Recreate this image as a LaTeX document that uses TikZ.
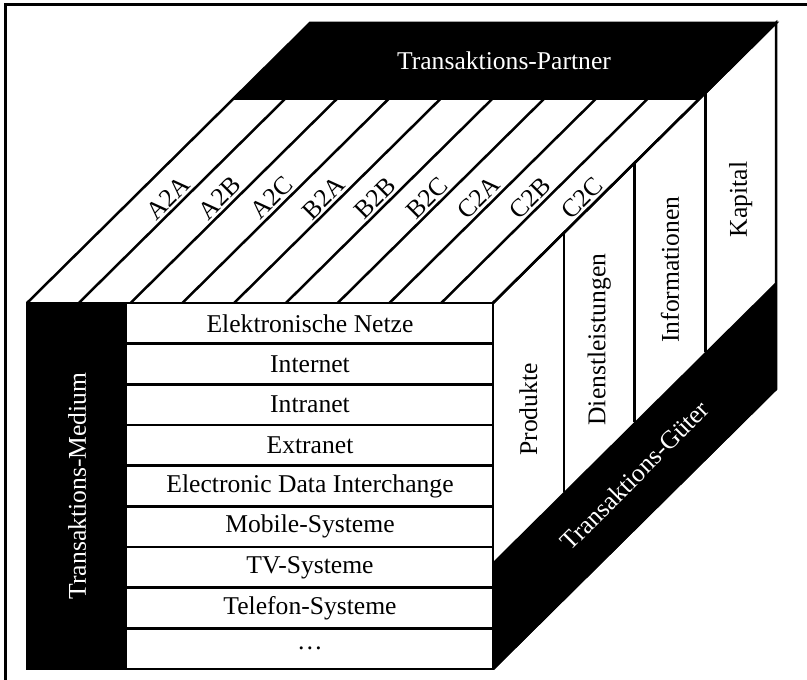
\documentclass[tikz,border=0pt]{standalone}
\usepackage{fontspec}
\setmainfont{Liberation Serif}

\tikzset{
  txt/.style={font=\fontsize{25.6}{30}\selectfont, inner sep=0pt},
  wtxt/.style={txt, text=white},
  edge/.style={line width=2.5pt, line join=miter},
}

\begin{document}
\begin{tikzpicture}[x=1pt,y=1pt]
  \useasboundingbox (0,0) rectangle (807,680);
  % frame
  \draw[line width=3pt] (5,0) -- (5,675) -- (807,675);

  % cube corners
  \coordinate (FBL) at (27,11);
  \coordinate (FTL) at (27,377);
  \coordinate (FTR) at (493,377);
  \coordinate (FBR) at (493,11);
  \coordinate (BTL) at (310,657);
  \coordinate (BTR) at (776,657);
  \coordinate (BBR) at (776,291);

  % black bands
  \fill (FBL) rectangle (127,377);
  \fill (233.3,581.1) -- (BTL) -- (BTR) -- (699.3,581.1) -- cycle;
  \fill (FBR) -- (493,118) -- (776,398) -- (BBR) -- cycle;

  % front face
  \draw[edge] (FBL) rectangle (FTR);
  \foreach \i in {1,...,8}
    \draw[edge] (127,{377-40.67*\i}) -- (493,{377-40.67*\i});

  % top face
  \draw[edge] (FTL) -- (BTL) -- (BTR) -- (FTR);
  \foreach \i in {1,...,8}
    \draw[edge] ({27+51.78*\i},377) -- ++(206.3,204.1);
  \draw[edge] (233.3,581.1) -- (699.3,581.1);

  % right face
  \draw[edge] (FTR) -- (BTR) -- (BBR) -- (FBR);
  \foreach \k in {1,2,3}
    \draw[edge] ({493+70.75*\k},{377+70*\k}) -- ({493+70.75*\k},{118+70*\k});
  \draw[edge] (FBR) -- (BBR);

  % labels
  \node[wtxt, rotate=90] (medium) at (77,194) {Transaktions-Medium};
  \node[wtxt] (partner) at (504,619) {Transaktions-Partner};
  \node[wtxt, rotate=45] (gueter) at (634.5,204.5) {Transaktions-Güter};

  \foreach \t [count=\i from 0] in {Elektronische Netze, Internet, Intranet,
      Extranet, Electronic Data Interchange, Mobile-Systeme, TV-Systeme,
      Telefon-Systeme, \dots}
    \node[txt] (row\i) at (310,{377-40.67*(\i+0.5)}) {\t};

  \foreach \t [count=\i from 0] in {A2A, A2B, A2C, B2A, B2B, B2C, C2A, C2B, C2C}
    \node[txt, rotate=45] (pair\i) at ({168+51.78*\i},482) {\t};

  \foreach \t [count=\k from 0] in {Produkte, Dienstleistungen, Informationen, Kapital}
    \node[txt, rotate=90] (good\k) at ({528.4+70.75*\k},{270.5+70*\k}) {\t};
\end{tikzpicture}
\end{document}
